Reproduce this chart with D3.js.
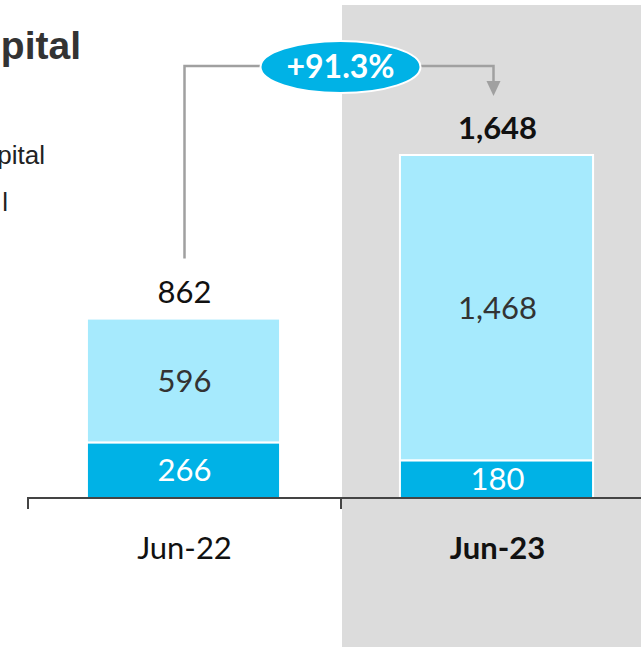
<!DOCTYPE html>
<html>
<head>
<meta charset="utf-8">
<script src="https://cdn.jsdelivr.net/npm/d3@7"></script>
<style>
  body { margin: 0; background: #fff; }
  svg { display: block; }
</style>
</head>
<body>
<script>
// chart values
var categories = ["Jun-22", "Jun-23"];
var bottomValues = [266, 180];
var topValues = [596, 1468];
var totals = [862, 1648];
var growthLabel = "+91.3%";

var width = 641, height = 647;
var baseY = 498;
var lightBlue = "#a6eafd", darkBlue = "#00b2e6", grey = "#dcdcdc", lineGrey = "#a0a0a0";
var font = "Lato, 'Open Sans', sans-serif";

var svg = d3.select("body").append("svg").attr("width", width).attr("height", height);

// x is a band per category, starting at the left tick
var x = d3.scaleBand().domain(categories).range([28, 654]).padding(0);
var barW = x.bandwidth() * 0.617;
var y = d3.scaleLinear().domain([0, 1648]).range([baseY, 155]);

// highlighted period background
svg.append("rect")
  .attr("x", x("Jun-23") + 1).attr("y", 5)
  .attr("width", width - x("Jun-23")).attr("height", height - 5)
  .attr("fill", grey);

// title and legend text, cropped at the left edge as in the source slide
svg.append("text").attr("x", 81).attr("y", 59).attr("text-anchor", "end")
  .attr("font-family", "'Liberation Sans', Arial, sans-serif").attr("font-weight", "bold")
  .attr("font-size", 39).attr("fill", "#333").text("pital");
svg.append("text").attr("x", 45).attr("y", 164).attr("text-anchor", "end")
  .attr("font-family", "'Liberation Sans', Arial, sans-serif")
  .attr("font-size", 26).attr("fill", "#222").text("pital");
svg.append("text").attr("x", 8).attr("y", 211).attr("text-anchor", "end")
  .attr("font-family", "'Liberation Sans', Arial, sans-serif")
  .attr("font-size", 26).attr("fill", "#222").text("l");

var data = categories.map(function(c, i) {
  return { cat: c, bottom: bottomValues[i], top: topValues[i], total: totals[i] };
});

var g = svg.selectAll("g.bar").data(data).enter().append("g").attr("class", "bar");
function bx(d) { return x(d.cat) + (x.bandwidth() - barW) / 2 - 1; }

g.append("rect")
  .attr("x", bx).attr("width", barW)
  .attr("y", function(d) { return y(d.bottom + d.top); })
  .attr("height", function(d) { return y(d.bottom) - y(d.bottom + d.top); })
  .attr("fill", lightBlue).attr("stroke", "#fff").attr("stroke-width", 2);
g.append("rect")
  .attr("x", bx).attr("width", barW)
  .attr("y", function(d) { return y(d.bottom); })
  .attr("height", function(d) { return baseY - y(d.bottom); })
  .attr("fill", darkBlue).attr("stroke", "#fff").attr("stroke-width", 2);

function cx(d) { return x(d.cat) + x.bandwidth() / 2; }

g.append("text").attr("x", cx)
  .attr("y", function(d) { return (y(d.bottom) + y(d.bottom + d.top)) / 2 + 11; })
  .attr("text-anchor", "middle").attr("font-family", font).attr("font-size", 31)
  .attr("fill", "#333").text(function(d) { return d3.format(",")(d.top); });
g.append("text").attr("x", cx)
  .attr("y", function(d) { return Math.min((y(d.bottom) + baseY) / 2 + 11, baseY - 5); })
  .attr("text-anchor", "middle").attr("font-family", font).attr("font-size", 31)
  .attr("fill", "#fff").text(function(d) { return d3.format(",")(d.bottom); });
g.append("text").attr("x", cx)
  .attr("y", function(d) { return y(d.total) - 16; })
  .attr("text-anchor", "middle").attr("font-family", font).attr("font-size", 31)
  .attr("font-weight", function(d, i) { return i === 1 ? "bold" : "normal"; })
  .attr("fill", "#111").text(function(d) { return d3.format(",")(d.total); });

// axis
svg.append("path")
  .attr("d", "M" + x("Jun-22") + "," + (baseY + 11) + "V" + baseY + "H" + width +
             "M" + x("Jun-23") + "," + baseY + "V" + (baseY + 11))
  .attr("fill", "none").attr("stroke", "#444").attr("stroke-width", 2);
svg.selectAll("text.cat").data(categories).enter().append("text")
  .attr("x", function(d) { return x(d) + x.bandwidth() / 2; })
  .attr("y", 559).attr("text-anchor", "middle").attr("font-family", font).attr("font-size", 31)
  .attr("font-weight", function(d, i) { return i === 1 ? "bold" : "normal"; })
  .attr("fill", "#111").text(function(d) { return d; });

// growth connector
var x1 = cx(data[0]), x2 = cx(data[1]);
var ly = 66, ex = (x1 + x2) / 2 - 0.5;
svg.append("path")
  .attr("d", "M" + x1 + "," + (y(totals[0]) - 60) + "V" + ly + "H" + (x2 - 4) + "V" + 82)
  .attr("fill", "none").attr("stroke", lineGrey).attr("stroke-width", 2.5);
svg.append("path")
  .attr("d", "M" + (x2 - 11) + ",81L" + (x2 + 3) + ",81L" + (x2 - 4) + ",96Z")
  .attr("fill", lineGrey);
svg.append("ellipse").attr("cx", ex).attr("cy", ly + 1).attr("rx", 80).attr("ry", 26)
  .attr("fill", darkBlue).attr("stroke", "#fff").attr("stroke-width", 2);
svg.append("text").attr("x", ex).attr("y", ly + 12).attr("text-anchor", "middle")
  .attr("font-family", font).attr("font-weight", "bold").attr("font-size", 32)
  .attr("fill", "#fff").text(growthLabel);
</script>
</body>
</html>
